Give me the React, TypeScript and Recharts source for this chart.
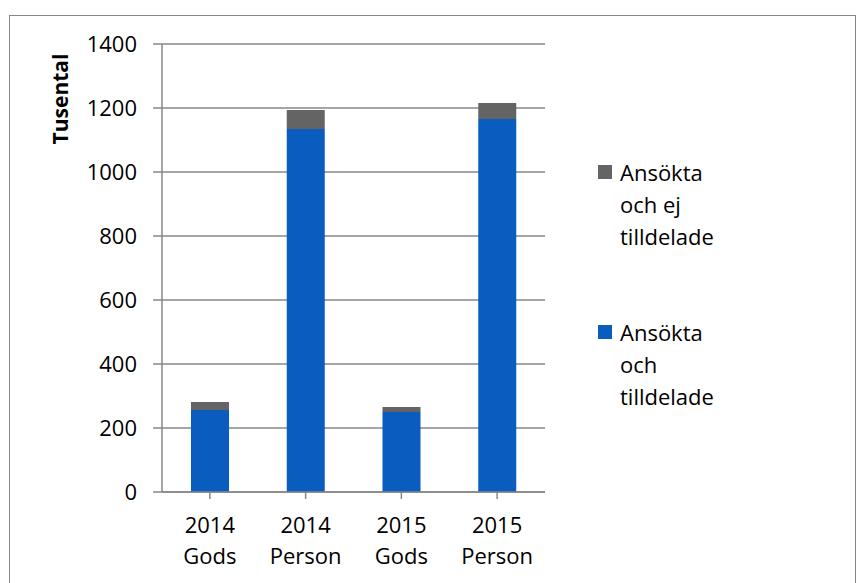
import React from "react";
import { BarChart, Bar, XAxis, YAxis, CartesianGrid } from "recharts";

const years = ["2014", "2014", "2015", "2015"];
const kinds = ["Gods", "Person", "Gods", "Person"];
const tilldelade = [256, 1134, 250, 1166];
const ejTilldelade = [25, 60, 16, 50];
const yTicks = [0, 200, 400, 600, 800, 1000, 1200, 1400];

const data = years.map((y, i) => ({
  name: `${y} ${kinds[i]}`,
  tilldelade: tilldelade[i],
  ejTilldelade: ejTilldelade[i],
}));

const FONT = "'Open Sans', sans-serif";
const BLUE = "#0A5CBE";
const GREY = "#646464";
const LINE = "#878787";

const XTick = (props: any) => {
  const { x, y, payload } = props;
  const [year, kind] = String(payload.value).split(" ");
  return (
    <text x={x} y={y} textAnchor="middle" fontFamily={FONT} fontSize={22} fill="#000">
      <tspan x={x} dy={32}>{year}</tspan>
      <tspan x={x} dy={31}>{kind}</tspan>
    </text>
  );
};

const legendItems = [
  { color: GREY, lines: ["Ansökta", "och ej", "tilldelade"] },
  { color: BLUE, lines: ["Ansökta", "och", "tilldelade"] },
];

const LegendBox = () => (
  <div
    style={{
      position: "absolute",
      left: 598,
      top: 156,
      fontFamily: FONT,
      fontSize: 22,
      lineHeight: "32px",
      color: "#000",
    }}
  >
    {legendItems.map((item, i) => (
      <div key={i} style={{ display: "flex", marginBottom: i === 0 ? 64 : 0 }}>
        <div style={{ width: 14, height: 14, background: item.color, marginTop: 9, marginRight: 8 }} />
        <div>
          {item.lines.map((l, j) => (
            <div key={j}>{l}</div>
          ))}
        </div>
      </div>
    ))}
  </div>
);

export default function App() {
  return (
    <div style={{ position: "absolute", left: 0, top: 0, width: 864, height: 583, background: "#fff", overflow: "hidden" }}>
      <div
        style={{
          position: "absolute",
          left: 9,
          top: 15,
          width: 845,
          height: 600,
          border: `1px solid ${LINE}`,
        }}
      />
      <div
        style={{
          position: "absolute",
          left: 60,
          top: 99,
          transform: "translate(-50%, -50%) rotate(-90deg)",
          fontFamily: FONT,
          fontWeight: "bold",
          fontSize: 21,
          whiteSpace: "nowrap",
        }}
      >
        Tusental
      </div>
      <BarChart
        width={864}
        height={583}
        data={data}
        margin={{ top: 44, right: 319, left: 102, bottom: 31 }}
        barSize={38}
        style={{ position: "absolute", left: 0, top: 0 }}
      >
        <CartesianGrid vertical={false} stroke={LINE} strokeWidth={1.5} />
        <XAxis
          dataKey="name"
          height={60}
          tick={<XTick />}
          tickSize={7}
          axisLine={{ stroke: LINE, strokeWidth: 1.5 }}
          tickLine={{ stroke: LINE, strokeWidth: 1.5 }}
          interval={0}
        />
        <YAxis
          width={60}
          domain={[0, 1400]}
          ticks={yTicks}
          tickSize={9}
          tickMargin={16}
          axisLine={{ stroke: LINE, strokeWidth: 1.5 }}
          tickLine={{ stroke: LINE, strokeWidth: 1.5 }}
          tick={{ fill: "#000", fontFamily: FONT, fontSize: 22 }}
          interval={0}
        />
        <Bar dataKey="tilldelade" stackId="a" fill={BLUE} isAnimationActive={false} />
        <Bar dataKey="ejTilldelade" stackId="a" fill={GREY} isAnimationActive={false} />
      </BarChart>
      <LegendBox />
    </div>
  );
}
